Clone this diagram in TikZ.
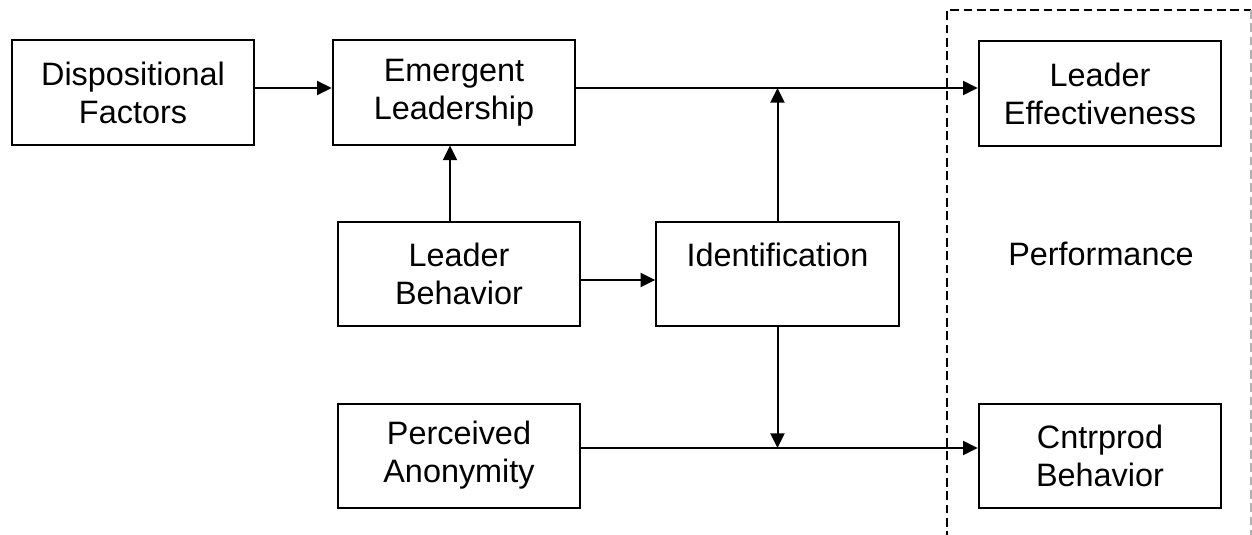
\documentclass[tikz,border=0pt]{standalone}
\usepackage{fontspec}
\setmainfont{Liberation Sans}
\usetikzlibrary{arrows.meta}
\begin{document}
\begin{tikzpicture}[x=0.75pt,y=-0.75pt,
  box/.style={draw,line width=1.5pt,minimum width=182pt,minimum height=78pt,inner sep=0pt,align=center,font=\fontsize{24.3}{28.5}\selectfont},
  txt/.style={inner sep=0pt,align=center,font=\fontsize{24.3}{28.5}\selectfont},
  arr/.style={line width=1.5pt,-{Triangle[length=11pt,width=10.5pt]}},
  frame/.style={line width=1.3pt,dash pattern=on 6.5pt off 3.5pt}]
\useasboundingbox (0,0) rectangle (1252,535);
\node[box] (disp) at (133,92.5) {Dispositional\\Factors};
\node[box] (emer) at (454,92.5) {Emergent\\Leadership};
\node[box] (eff) at (1100,93.5) {Leader\\Effectiveness};
\node[box] (beh) at (459,274) {Leader\\Behavior};
\node[box] (ident) at (777.5,274) {};
\node[txt] (identtxt) at (777.5,255) {Identification};
\node[box] (anon) at (459,455.5) {Perceived\\Anonymity};
\node[box] (cntr) at (1100,456) {Cntrprod\\Behavior};
\node[txt] (perf) at (1101,254) {Performance};
\coordinate (topj) at (777.5,88);
\coordinate (botj) at (777.5,448);
\coordinate (fbl) at (947,540);
\coordinate (ftl) at (947,10);
\coordinate (ftr) at (1251,10);
\coordinate (fbr) at (1251,540);
\draw[frame] (fbl) -- (ftl) -- (ftr);
\draw[frame,gray!60] (ftr) -- (fbr);
\draw[arr] (disp.east |- 0,88) -- (emer.west |- 0,88);
\draw[arr] (emer.east |- 0,88) -- (eff.west |- 0,88);
\draw[arr] (beh.north -| 450,0) -- (emer.south -| 450,0);
\draw[arr] (beh.east |- 0,280) -- (ident.west |- 0,280);
\draw[arr] (ident.north) -- (topj);
\draw[arr] (ident.south) -- (botj);
\draw[arr] (anon.east |- 0,448) -- (cntr.west |- 0,448);
\end{tikzpicture}
\end{document}
